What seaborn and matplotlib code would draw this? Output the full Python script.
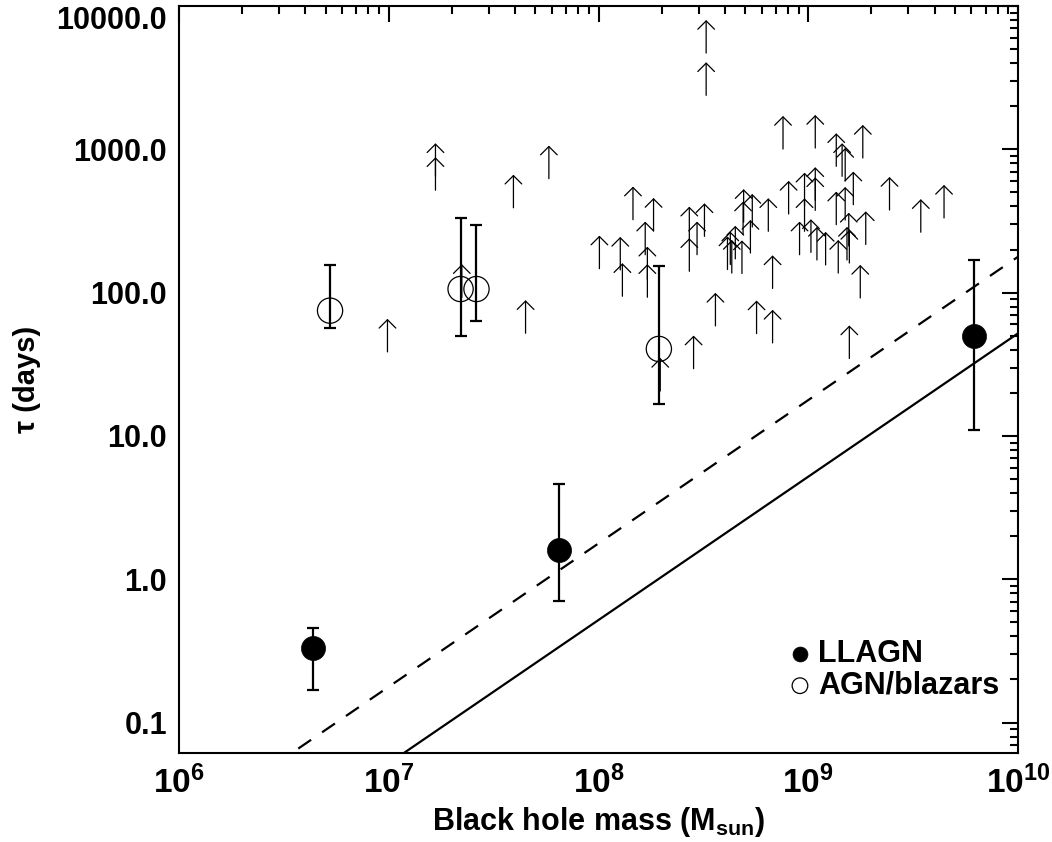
import numpy as np
import matplotlib
matplotlib.use("Agg")
import matplotlib.pyplot as plt
import matplotlib.transforms as mtransforms
import seaborn as sns
from matplotlib.transforms import offset_copy
from matplotlib.ticker import FixedLocator, FixedFormatter, LogLocator, NullFormatter

# ---------------- data ----------------
llagn_mass = [4.36e6, 6.47e7, 6.17e9]
llagn_tau = [0.334, 1.61, 49.9]
llagn_tau_lo = [0.170, 0.708, 11.0]
llagn_tau_hi = [0.461, 4.61, 169.0]

agn_mass = [5.25e6, 2.20e7, 2.62e7, 1.94e8]
agn_tau = [74.9, 106.0, 106.0, 40.5]
agn_tau_lo = [56.4, 49.7, 63.2, 16.7]
agn_tau_hi = [156.0, 330.0, 297.0, 154.0]

# lower limits (arrow tails)
limit_mass = [1.67e7, 1.67e7, 3.93e7, 5.80e7, 1.01e8, 2.23e7, 4.49e7, 9.86e6,
              3.26e8, 3.26e8, 1.27e8, 1.30e8, 1.67e8, 1.83e8, 1.46e8, 1.71e8,
              1.71e8, 2.71e8, 3.20e8, 2.95e8, 2.71e8, 3.61e8, 2.84e8, 4.12e8,
              4.25e8, 4.32e8, 4.49e8, 4.83e8, 4.92e8, 5.41e8, 4.89e8, 5.30e8,
              6.45e8, 6.76e8, 5.67e8, 6.76e8, 7.58e8, 1.08e9, 1.36e9, 1.45e9,
              1.50e9, 1.82e9, 8.06e8, 9.60e8, 1.08e9, 1.08e9, 9.60e8, 9.09e8,
              1.03e9, 1.10e9, 1.21e9, 1.36e9, 1.50e9, 1.64e9, 1.56e9, 1.88e9,
              1.53e9, 1.57e9, 1.39e9, 1.77e9, 1.57e9, 2.44e9, 3.44e9, 4.44e9,
              1.97e8]
limit_tau = [648, 518, 391, 624, 147, 92.9, 52.1, 38.6,
             4694, 2380, 144, 94.4, 184, 269, 323, 123,
             92.9, 234, 247, 184, 141, 58.6, 29.5, 145,
             157, 137, 172, 136, 310, 287, 254, 189,
             268, 107, 51.8, 44.6, 1005, 1021, 761, 648,
             601, 870, 354, 404, 441, 375, 268, 184,
             191, 169, 156, 298, 321, 411, 212, 217,
             169, 161, 137, 91.8, 34.7, 377, 264, 332,
             20.6]

line_mass = [1e6, 1e10]
solid_tau = [5.2e-3, 52.0]
dashed_tau = [1.78e-2, 178.0]

x_tick_values = [1e6, 1e7, 1e8, 1e9, 1e10]
x_tick_labels = [r"$10^{6}$", r"$10^{7}$", r"$10^{8}$", r"$10^{9}$", r"$10^{10}$"]
y_tick_values = [0.1, 1.0, 10.0, 100.0, 1000.0, 10000.0]
y_tick_labels = ["0.1", "1.0", "10.0", "100.0", "1000.0", "10000.0"]

# ---------------- style ----------------
sns.set_style("white")
plt.rcParams["font.family"] = ["Liberation Sans", "DejaVu Sans"]
plt.rcParams["font.weight"] = "bold"
plt.rcParams["text.color"] = "black"
plt.rcParams["axes.labelcolor"] = "black"
plt.rcParams["xtick.color"] = "black"
plt.rcParams["ytick.color"] = "black"
plt.rcParams["mathtext.fontset"] = "custom"
plt.rcParams["mathtext.rm"] = "Liberation Sans:bold"
plt.rcParams["mathtext.it"] = "Liberation Sans:bold"
plt.rcParams["mathtext.bf"] = "Liberation Sans:bold"
plt.rcParams["mathtext.default"] = "rm"

fig = plt.figure(figsize=(10.52, 8.42), dpi=100)
ax = fig.add_axes([179 / 1052, 1 - 753 / 842, 839 / 1052, 747 / 842])
ax.set_xscale("log")
ax.set_yscale("log")
ax.set_xlim(1e6, 1e10)
ax.set_ylim(0.0614, 1e4)

# model lines
sns.lineplot(x=line_mass, y=solid_tau, color="black", lw=1.6, ax=ax)
sns.lineplot(x=line_mass, y=dashed_tau, color="black", lw=1.6,
             linestyle=(0, (7, 6)), ax=ax)

# lower-limit arrows
arrow_len_pt = 23.8
for m, t in zip(limit_mass, limit_tau):
    ax.annotate("", xy=(m, t),
                xycoords=offset_copy(ax.transData, fig=fig, x=0, y=arrow_len_pt, units="points"),
                xytext=(m, t), textcoords="data",
                arrowprops=dict(arrowstyle="->,head_length=0.3,head_width=0.3",
                                lw=0.9, color="black", shrinkA=0, shrinkB=0,
                                mutation_scale=20))

# error bars
def yerr(v, lo, hi):
    v, lo, hi = map(np.asarray, (v, lo, hi))
    return np.vstack([v - lo, hi - v])

ax.errorbar(llagn_mass, llagn_tau, yerr=yerr(llagn_tau, llagn_tau_lo, llagn_tau_hi),
            fmt="none", ecolor="black", elinewidth=1.6, capsize=4, capthick=1.6, zorder=3)
ax.errorbar(agn_mass, agn_tau, yerr=yerr(agn_tau, agn_tau_lo, agn_tau_hi),
            fmt="none", ecolor="black", elinewidth=1.6, capsize=4, capthick=1.6, zorder=3)

# points
sns.scatterplot(x=llagn_mass, y=llagn_tau, s=300, color="black", edgecolor="black",
                linewidth=0.5, label="LLAGN", ax=ax, zorder=4)
sns.scatterplot(x=agn_mass, y=agn_tau, s=330, color="black", label="AGN/blazars",
                ax=ax, zorder=4)
coll = ax.collections[-1]
coll.set_facecolor("none")
coll.set_edgecolor("black")
coll.set_linewidth(0.9)

ax.legend(loc="lower right", bbox_to_anchor=(0.978, 0.070), frameon=False,
          fontsize=22, markerscale=0.62, handletextpad=0.15, labelspacing=0.05,
          borderaxespad=0, handlelength=0.9, borderpad=0, labelcolor="black")

# axes / ticks
ax.xaxis.set_major_locator(FixedLocator(x_tick_values))
ax.xaxis.set_major_formatter(FixedFormatter(x_tick_labels))
ax.yaxis.set_major_locator(FixedLocator(y_tick_values))
# top label is drawn separately so it stays inside the figure
ax.yaxis.set_major_formatter(FixedFormatter(y_tick_labels[:-1] + [""]))
for axis in (ax.xaxis, ax.yaxis):
    axis.set_minor_locator(LogLocator(base=10, subs=np.arange(2, 10) * 1.0, numticks=50))
    axis.set_minor_formatter(NullFormatter())

ax.tick_params(which="both", direction="in", top=True, right=True, width=1.5,
               color="black", labelcolor="black", pad=8.5)
ax.tick_params(which="major", length=11.5)
ax.tick_params(which="minor", length=5.8)
ax.tick_params(axis="y", labelsize=22)
ax.tick_params(axis="x", labelsize=24, pad=9)
for sp in ax.spines.values():
    sp.set_linewidth(1.5)
    sp.set_color("black")

top_trans = mtransforms.blended_transform_factory(ax.transAxes, ax.transData)
top_trans = top_trans + mtransforms.ScaledTranslation(-8.5 / 72, 0, fig.dpi_scale_trans)
ax.text(0, y_tick_values[-1], y_tick_labels[-1], transform=top_trans,
        ha="right", va="top", fontsize=22, fontweight="bold", color="black", clip_on=False)

ax.set_xlabel(r"Black hole mass (M$_{\mathrm{sun}}$)", fontsize=22, fontweight="bold",
              color="black")
ax.set_ylabel("\u03c4 (days)", fontsize=21, fontweight="bold", color="black")
ax.xaxis.set_label_coords(0.5, -0.070)
ax.yaxis.set_label_coords(-0.165, 0.5)

fig.savefig("out.png", dpi=100)
